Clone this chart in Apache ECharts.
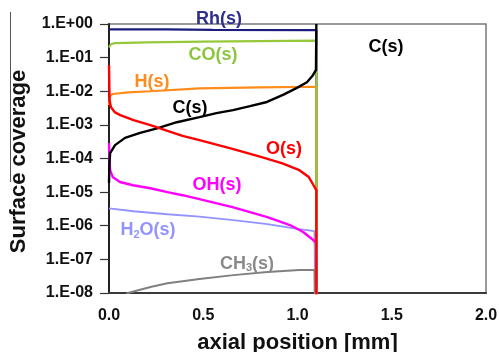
<!DOCTYPE html>
<html><head><meta charset="utf-8">
<script src="https://cdn.jsdelivr.net/npm/echarts@6/dist/echarts.min.js"></script>
<style>html,body{margin:0;padding:0;background:#fff}#c{width:499px;height:352px}</style>
</head><body><div id="c"></div>
<script>
// ---- data (x in mm, y = surface coverage) ----
const xTicks = [0.0, 0.5, 1.0, 1.5, 2.0];
const yTickExponents = [0, -1, -2, -3, -4, -5, -6, -7, -8];
const rhData = [[0,0.69],[0.3,0.69],[0.55,0.67],[1.1,0.66],[1.1,1e-12]];
const coData = [[0,0.20],[0.01,0.25],[0.03,0.27],[0.2,0.285],[0.5,0.30],[0.8,0.31],[1.1,0.32],[1.1,1e-12]];
const hData = [[0,0.0039],[0.005,0.0072],[0.02,0.0083],[0.1,0.0092],[0.22,0.010],[0.48,0.0122],[0.8,0.013],[1.1,0.0136],[1.1,1e-12]];
const h2oData = [[0,3.3e-6],[0.13,2.7e-6],[0.31,2.2e-6],[0.48,1.86e-6],[0.66,1.48e-6],[0.84,1.12e-6],[1.01,7.9e-7],[1.09,6.9e-7],[1.1,1e-12]];
const ch3Data = [[0,2.5e-9],[0.1,1e-8],[0.22,1.5e-8],[0.31,1.95e-8],[0.39,2.24e-8],[0.48,2.6e-8],[0.66,3.4e-8],[0.84,4.2e-8],[1.01,4.8e-8],[1.09,4.8e-8],[1.1,1e-12]];
const ohData = [[0,2.9e-4],[0.003,8.9e-5],[0.006,4.5e-5],[0.02,2.8e-5],[0.058,2.0e-5],[0.127,1.6e-5],[0.22,1.3e-5],[0.31,1.0e-5],[0.39,8.1e-6],[0.48,6.2e-6],[0.66,3.5e-6],[0.84,1.8e-6],[0.96,1.05e-6],[1.03,6.5e-7],[1.085,3.7e-7],[1.1,3.0e-7],[1.1,1e-12]];
const cData = [[0,1.9e-5],[0.002,6.3e-5],[0.006,1.45e-4],[0.032,2.5e-4],[0.085,4.1e-4],[0.165,5.8e-4],[0.255,7.9e-4],[0.36,1.2e-3],[0.48,1.7e-3],[0.57,2.24e-3],[0.658,2.75e-3],[0.748,3.6e-3],[0.838,4.8e-3],[0.923,7.8e-3],[0.997,0.0126],[1.05,0.0186],[1.082,0.030],[1.098,0.043],[1.1,1]];
const oData = [[0,0.060],[0.003,0.0055],[0.01,0.0034],[0.03,0.0024],[0.06,0.00195],[0.13,0.00138],[0.22,9.8e-4],[0.31,6.6e-4],[0.39,4.7e-4],[0.48,3.5e-4],[0.66,1.9e-4],[0.81,1.1e-4],[0.92,7.2e-5],[1.01,4.5e-5],[1.06,2.8e-5],[1.085,1.6e-5],[1.1,1.15e-5],[1.1,1e-12]];

// ---- styling ----
const FONT = '"Liberation Sans", Arial, sans-serif';
const COLORS = {rh:'#1c1c7c', co:'#95c83a', h:'#ff8c1a', h2o:'#9393ff', ch3:'#808080', oh:'#ff00ff', c:'#000000', o:'#ff0000'};
const labelDefs = [
  {rich:'{t|Rh(s)}', at:[0.584, 1.4], color:'#2e2e8e'},
  {rich:'{t|CO(s)}', at:[0.552, 0.12], color:'#8cc63f'},
  {rich:'{t|H(s)}', at:[0.228, 0.0187], color:'#ff8c1a'},
  {rich:'{t|C(s)}', at:[0.43, 3.2e-3], color:'#000'},
  {rich:'{t|O(s)}', at:[0.928, 1.9e-4], color:'#ff0000'},
  {rich:'{t|OH(s)}', at:[0.573, 1.6e-5], color:'#ff00ff'},
  {rich:'{t|H}{s|2}{t|O(s)}', at:[0.207, 7.4e-7], color:'#9393ff'},
  {rich:'{t|CH}{s|3}{t|(s)}', at:[0.732, 7.5e-8], color:'#8a8a8a'},
  {rich:'{t|C(s)}', at:[1.47, 0.21], color:'#000'}
];

function expLabel(v){
  const e = Math.round(Math.log10(v));
  const a = Math.abs(e);
  return '1.E' + (e >= 0 ? '+' : '-') + (a < 10 ? '0' + a : '' + a);
}

const chart = echarts.init(document.getElementById('c'), null, {renderer:'canvas'});
function mk(name, data, color, width){
  return {name, type:'line', data, showSymbol:false, symbol:'none', clip:true,
    lineStyle:{color, width}, itemStyle:{color}, animation:false};
}
chart.setOption({
  animation:false,
  backgroundColor:'#fff',
  grid:{left:109, right:13, top:24, bottom:59, show:true, borderColor:'#7a7a7a', borderWidth:1.5,
    containLabel:false, outerBoundsMode:'none'},
  xAxis:{type:'value', min:xTicks[0], max:xTicks[xTicks.length-1], interval:0.5,
    axisLine:{lineStyle:{color:'#3a3a3a', width:2}},
    axisTick:{show:false}, splitLine:{show:false},
    axisLabel:{margin:15, color:'#111', fontSize:16, fontWeight:'bold', fontFamily:FONT,
      formatter:v=>v.toFixed(1)},
    name:'axial position [mm]', nameLocation:'middle', nameGap:39,
    nameTextStyle:{color:'#111', fontSize:22, fontWeight:'bold', fontFamily:FONT}},
  yAxis:{type:'log', logBase:10, min:Math.pow(10, yTickExponents[yTickExponents.length-1]), max:Math.pow(10, yTickExponents[0]),
    splitNumber:8,
    axisLine:{lineStyle:{color:'#222', width:2}},
    axisTick:{show:true, inside:false, length:9, lineStyle:{color:'#333', width:1.2}},
    splitLine:{show:false}, minorTick:{show:false},
    axisLabel:{margin:16, color:'#111', fontSize:16, fontWeight:'bold', fontFamily:FONT, formatter:expLabel},
    name:'Surface coverage', nameLocation:'middle', nameGap:79,
    nameTextStyle:{color:'#111', fontSize:22, fontWeight:'bold', fontFamily:FONT, padding:[0,0,0,-6]}},
  series:[
    mk('Rh(s)', rhData, COLORS.rh, 2.2),
    mk('H(s)', hData, COLORS.h, 2.2),
    mk('H2O(s)', h2oData, COLORS.h2o, 1.8),
    mk('CH3(s)', ch3Data, COLORS.ch3, 2),
    mk('OH(s)', ohData, COLORS.oh, 2.4),
    mk('CO(s)', coData, COLORS.co, 2.2),
    mk('C(s)', cData, COLORS.c, 2.4),
    mk('O(s)', oData, COLORS.o, 2.4)
  ]
});

const graphics = labelDefs.map(d => {
  const p = chart.convertToPixel({gridIndex:0}, d.at);
  return {type:'text', x:p[0], y:p[1], z:100,
    style:{text:d.rich, align:'center', verticalAlign:'middle',
      rich:{
        t:{fill:d.color, fontSize:18, fontWeight:'bold', fontFamily:FONT, lineHeight:20, verticalAlign:'middle'},
        s:{fill:d.color, fontSize:11, fontWeight:'bold', fontFamily:FONT, lineHeight:20, verticalAlign:'bottom', padding:[8,0,0,0]}
      }}};
});
graphics.push({type:'line', shape:{x1:10.5, y1:12, x2:10.5, y2:182}, style:{stroke:'#555', lineWidth:1}});
chart.setOption({graphic:graphics});
</script>
</body></html>
